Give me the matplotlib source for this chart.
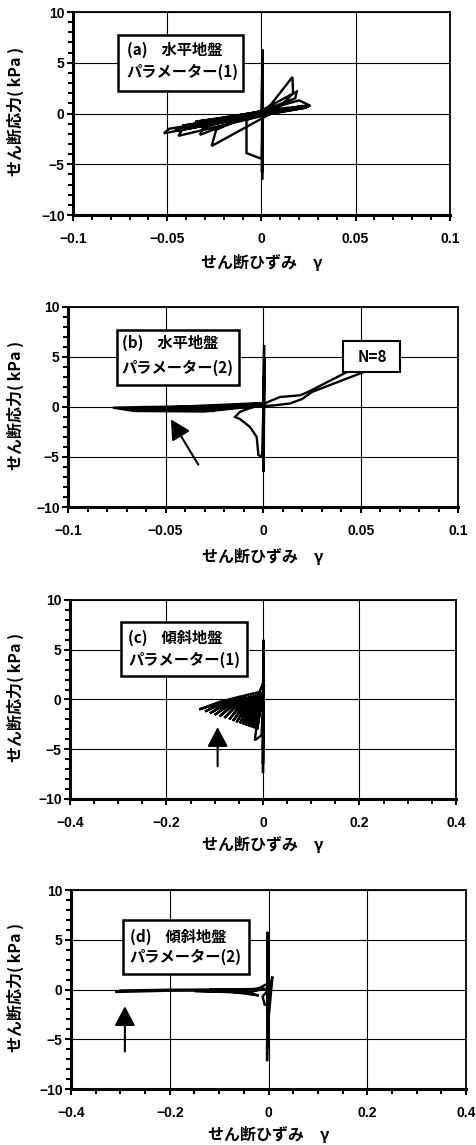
import matplotlib
matplotlib.use("Agg")
import matplotlib.pyplot as plt
from matplotlib.patches import Rectangle
from matplotlib.ticker import MultipleLocator

plt.rcParams['font.family'] = ['Noto Sans CJK JP', 'DejaVu Sans']

# (a) 水平地盤 パラメーター(1)
a_strain = [0.0, 0.0006, 0.0004, 0.0007, 0.0003, 0.0006, 0.0002, -0.0008, -0.0079, -0.0079,
            0.003, 0.0165, 0.0168, 0.008, -0.0264, -0.0240, 0.0000, 0.0187, 0.0180, -0.0326,
            -0.0310, 0.0200, 0.0250, -0.0440, -0.0420, 0.0260, -0.0517, -0.0490, 0.0250,
            -0.0450, 0.0240, -0.0420, 0.0220, -0.0380, 0.0200, -0.0350, 0.0150, -0.0300,
            0.0100, -0.0250, 0.0050, -0.0200, 0.0000, -0.0400, 0.0180, -0.0460, 0.0230, 0.0]
a_stress = [0.0, 6.3, -6.5, 5.2, -5.8, 4.0, -4.4, -4.4, -3.9, -0.65,
            0.4, 3.6, 2.0, 0.3, -3.2, -1.6, 0.3, 2.15, 1.5, -2.1,
            -1.4, 1.3, 0.85, -2.2, -1.6, 0.8, -1.95, -1.5, 0.7,
            -1.5, 0.6, -1.2, 0.75, -1.1, 0.5, -0.8, 0.6, -0.9,
            0.3, -0.6, 0.4, -0.5, 0.2, -1.35, 0.45, -1.7, 0.55, 0.3]

# (b) 水平地盤 パラメーター(2)
b_strain = [0.0, 0.0005, 0.0003, 0.0006, 0.0002, 0.0005, -0.0005, -0.0024, -0.0033, -0.0067,
            -0.0119, -0.0144, -0.0120, -0.0080, 0.0000, 0.0087, 0.0190, 0.0230, 0.0470,
            0.0570, 0.0250, 0.0200, 0.0138, 0.0050, -0.0050, -0.0300, -0.0660, -0.0770,
            -0.0600, -0.0300, -0.0100, 0.0000, -0.0700, -0.0400, -0.0200, -0.0650, -0.0050,
            -0.0550, -0.0250, -0.0600, -0.0080]
b_stress = [0.0, 6.2, -6.5, 5.0, -5.5, 3.0, -5.0, -4.8, -3.0, -2.0,
            -1.2, -1.0, -0.5, -0.2, 0.3, 1.0, 1.17, 1.5, 3.9,
            3.9, 1.5, 0.8, 0.35, 0.15, 0.05, -0.45, -0.4, -0.07,
            0.0, 0.05, 0.2, 0.4, -0.2, -0.3, -0.25, -0.35, 0.1,
            -0.15, -0.4, -0.1, 0.0]

# (c) 傾斜地盤 パラメーター(1)
c_strain = [0.0, 0.001, 0.0, 0.001, 0.0, 0.001, 0.0, 0.002, -0.003, -0.017, -0.014,
            0.001, -0.012, 0.000, -0.018, -0.002, -0.024, -0.004, -0.030, -0.007, -0.036,
            -0.010, -0.042, -0.014, -0.048, -0.018, -0.055, -0.023, -0.062, -0.028, -0.070,
            -0.034, -0.080, -0.040, -0.090, -0.047, -0.100, -0.055, -0.110, -0.065, -0.120,
            -0.075, -0.132, -0.090, -0.050, -0.007, 0.002]
c_stress = [0.0, 6.0, -7.4, 5.0, -6.5, 3.5, -5.0, 1.5, -3.6, -4.1, -3.0,
            0.9, -3.0, 0.75, -2.9, 0.7, -2.8, 0.65, -2.7, 0.6, -2.6,
            0.55, -2.5, 0.5, -2.4, 0.45, -2.3, 0.4, -2.15, 0.35, -2.0,
            0.3, -1.85, 0.25, -1.7, 0.2, -1.55, 0.1, -1.4, 0.0, -1.2,
            -0.1, -1.0, -0.24, 0.26, 0.76, 1.9]

# (d) 傾斜地盤 パラメーター(2)
d_strain = [0.0, -0.002, -0.003, -0.001, -0.003, 0.0, -0.002, 0.008, 0.004, -0.005, -0.012,
            -0.008, -0.003, 0.0, 0.006, -0.03, -0.1, -0.2, -0.31, -0.3, -0.2, -0.1, -0.03,
            -0.01, -0.04, -0.02, -0.08, -0.15, -0.06, -0.01, -0.12, -0.05, 0.0]
d_stress = [0.0, 5.8, -7.2, 4.5, -6.0, 3.0, -4.0, 1.3, 0.5, -0.3, -0.7,
            -1.5, -1.6, -0.5, 0.8, -0.15, -0.1, -0.12, -0.25, -0.1, -0.02, 0.0, 0.05,
            0.2, -0.35, -0.6, -0.2, -0.15, -0.3, 0.0, -0.05, -0.1, 0.1]

panel_titles = ["(a)    水平地盤", "(b)    水平地盤", "(c)    傾斜地盤", "(d)    傾斜地盤"]
panel_params = ["パラメーター(1)", "パラメーター(2)", "パラメーター(1)", "パラメーター(2)"]

xticks_small = [-0.1, -0.05, 0, 0.05, 0.1]
xlabels_small = ["\u22120.1", "\u22120.05", "0", "0.05", "0.1"]
xticks_large = [-0.4, -0.2, 0, 0.2, 0.4]
xlabels_large = ["\u22120.4", "\u22120.2", "0", "0.2", "0.4"]
yticks = [-10, -5, 0, 5, 10]
ylabels = ["\u221210", "\u22125", "0", "5", "10"]

# arrows: (tail strain, tail stress, head strain, head stress)
arrow_b = (-0.0325, -6.0, -0.048, -1.0)
arrow_c = (-0.094, -7.0, -0.094, -2.5)
arrow_d = (-0.291, -6.5, -0.291, -1.4)

fig = plt.figure(figsize=(4.77, 11.45), dpi=100)

axes_rects = [[0.153, 0.8122, 0.790, 0.1773],
              [0.1426, 0.5572, 0.818, 0.1747],
              [0.1468, 0.3022, 0.809, 0.1738],
              [0.149, 0.0489, 0.828, 0.1738]]
box_rects = [(0.119, 0.611, 0.332, 0.276), (0.126, 0.61, 0.313, 0.275),
             (0.131, 0.618, 0.327, 0.273), (0.131, 0.578, 0.32, 0.271)]
text_pos = [(0.143, 0.813, 0.704), (0.138, 0.818, 0.694),
            (0.151, 0.808, 0.698), (0.148, 0.765, 0.662)]
ylab_x = [-0.154, -0.136, -0.142, -0.142]
xlab_y = [-0.2315, -0.248, -0.231, -0.231]

data = [(a_strain, a_stress), (b_strain, b_stress), (c_strain, c_stress), (d_strain, d_stress)]
tick_font = dict(family='Liberation Sans', size=10, weight='bold')

for i in range(4):
    ax = fig.add_axes(axes_rects[i])
    xs, ys = data[i]
    ax.plot(xs, ys, color='black', lw=1.7, solid_joinstyle='miter', zorder=3)

    if i < 2:
        ax.set_xlim(-0.1, 0.1)
        ax.set_xticks(xticks_small)
        ax.set_xticklabels(xlabels_small, fontdict=tick_font)
        ax.xaxis.set_minor_locator(MultipleLocator(0.01))
    else:
        ax.set_xlim(-0.4, 0.4)
        ax.set_xticks(xticks_large)
        ax.set_xticklabels(xlabels_large, fontdict=tick_font)
        ax.xaxis.set_minor_locator(MultipleLocator(0.05))
    ax.set_ylim(-10, 10)
    ax.set_yticks(yticks)
    ax.set_yticklabels(ylabels, fontdict=tick_font)
    ax.yaxis.set_minor_locator(MultipleLocator(1))

    ax.grid(True, which='major', color='black', lw=0.8)
    ax.tick_params(axis='both', which='both', direction='out', width=1.5, colors='black')
    ax.tick_params(axis='both', which='major', length=4)
    ax.tick_params(axis='both', which='minor', length=3.5)
    ax.tick_params(axis='x', which='major', pad=8)
    ax.tick_params(axis='y', which='major', pad=2)
    for side in ['top', 'right']:
        ax.spines[side].set_linewidth(1.3)
    for side in ['left', 'bottom']:
        ax.spines[side].set_linewidth(2.2)

    ax.set_ylabel("せん断応力( kPa )", fontsize=11.5, fontweight='bold')
    ax.yaxis.set_label_coords(ylab_x[i], 0.51)
    ax.yaxis.label.set_va('center')
    ax.set_xlabel("せん断ひずみ\u3000γ", fontsize=11.5, fontweight='bold')
    ax.xaxis.set_label_coords(0.5, xlab_y[i])
    ax.xaxis.label.set_va('center')

    bx, by, bw, bh = box_rects[i]
    ax.add_patch(Rectangle((bx, by), bw, bh, transform=ax.transAxes, facecolor='white',
                           edgecolor='black', lw=1.8, zorder=5))
    tx, ty1, ty2 = text_pos[i]
    ax.text(tx, ty1, panel_titles[i], transform=ax.transAxes, fontsize=11, fontweight='bold',
            ha='left', va='center', zorder=6)
    ax.text(tx, ty2, panel_params[i], transform=ax.transAxes, fontsize=11, fontweight='bold',
            ha='left', va='center', zorder=6)

    if i == 1:
        ax.add_patch(Rectangle((0.706, 0.677), 0.145, 0.155, transform=ax.transAxes,
                               facecolor='white', edgecolor='black', lw=1.5, zorder=5))
        ax.text(0.779, 0.752, "N=8", transform=ax.transAxes, fontsize=11, fontweight='bold',
                ha='center', va='center', zorder=6)

    arr = [None, arrow_b, arrow_c, arrow_d][i]
    if arr is not None:
        ax.annotate("", xy=(arr[2], arr[3]), xytext=(arr[0], arr[1]),
                    arrowprops=dict(arrowstyle='-|>,head_length=0.85,head_width=0.45',
                                    mutation_scale=14, color='black', lw=1.5),
                    zorder=4)

fig.savefig("out.png", dpi=100, facecolor='white')
